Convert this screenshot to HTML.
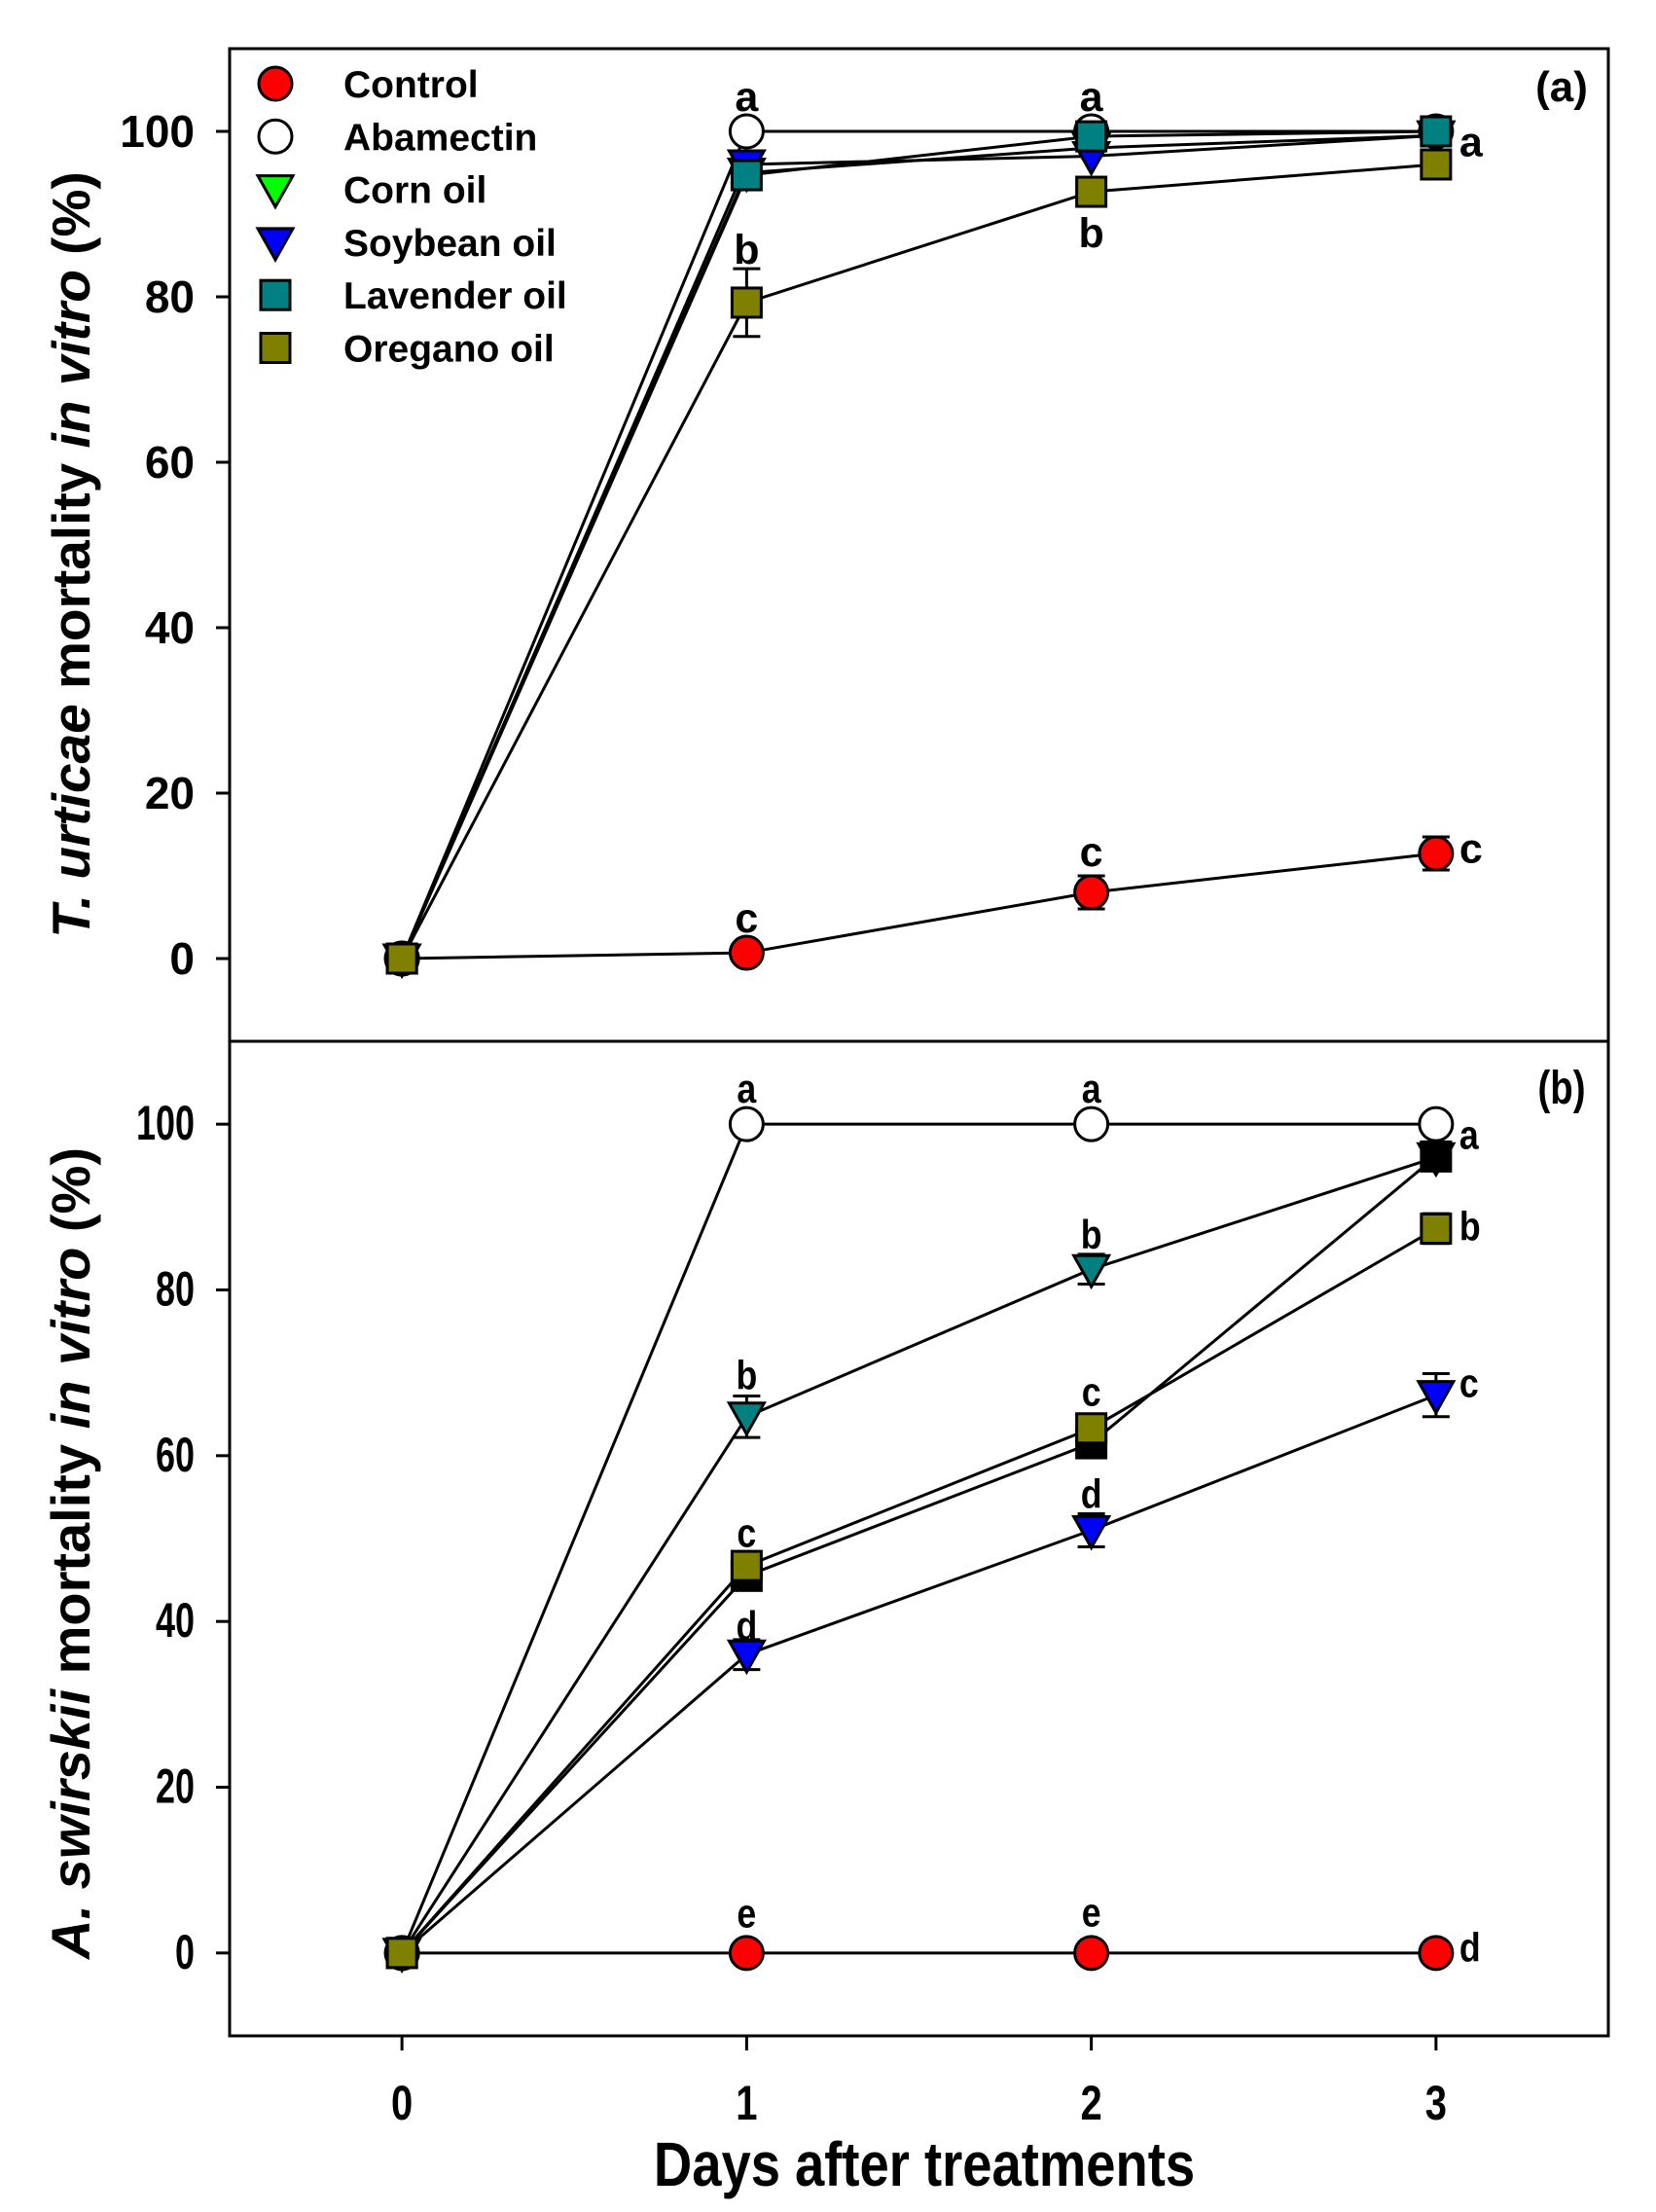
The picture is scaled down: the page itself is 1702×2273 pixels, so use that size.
<!DOCTYPE html>
<html><head><meta charset="utf-8"><style>
html,body{margin:0;padding:0;background:#fff;}
svg{display:block;font-family:"Liberation Sans",Arial,sans-serif;font-weight:bold;}
</style></head><body>
<svg id="chart" width="1702" height="2273" viewBox="0 0 1702 2273" xmlns="http://www.w3.org/2000/svg"></svg>
<script>
const days = [0, 1, 2, 3];
const yTicks = [0, 20, 40, 60, 80, 100];
const seriesNames = ["Control", "Abamectin", "Corn oil", "Soybean oil", "Lavender oil", "Oregano oil"];
// Panel (a) T. urticae
const aControl = [0, 0.7, 8, 12.7];
const aAbamectin = [0, 100, 100, 100];
const aCorn = [0, 95, 98, 99.5];
const aSoybean = [0, 96, 97, 99.5];
const aLavender = [0, 94.7, 99.4, 100];
const aOregano = [0, 79.3, 92.7, 96];
const aControlErr = [0, 0.7, 2, 2];
const aOreganoErr = [0, 4.1, 0, 0];
// Panel (b) A. swirskii
const bControl = [0, 0, 0, 0];
const bAbamectin = [0, 100, 100, 100];
const bCorn = [0, 64.7, 82.5, 96];
const bSoybean = [0, 36, 51, 67.3];
const bLavender = [0, 45.5, 61.5, 96.1];
const bOregano = [0, 46.7, 63.3, 87.4];
const bCornErr = [0, 2.5, 1.8, 0];
const bSoybeanErr = [0, 1.8, 2, 2.6];
const bLavenderErr = [0, 1.5, 1.5, 1];
const bOreganoErr = [0, 1.5, 0, 1.8];
// letters: [letter, day, baseline value, position]
const aLetters = [["a",1,102.5,"c"],["b",1,84,"c"],["c",1,3.2,"c"],["a",2,102.5,"c"],["b",2,86,"c"],["c",2,11.2,"c"],["a",3,97,"r"],["c",3,11.6,"r"]];
const bLetters = [["a",1,102.6,"c"],["b",1,68,"c"],["c",1,49,"c"],["d",1,37.8,"c"],["e",1,3.1,"c"],["a",2,102.6,"c"],["b",2,85,"c"],["c",2,66,"c"],["d",2,53.7,"c"],["e",2,3.2,"c"],["a",3,97,"r"],["b",3,86,"r"],["c",3,67.1,"r"],["d",3,-1,"r"]];

const NS = "http://www.w3.org/2000/svg";
const svg = document.getElementById("chart");
function el(tag, attrs, parent) {
  const e = document.createElementNS(NS, tag);
  for (const k in attrs) e.setAttribute(k, attrs[k]);
  (parent || svg).appendChild(e);
  return e;
}
const X0 = 236, X1 = 1653;
function xs(d) { return X0 + (d + 0.5) / 4 * (X1 - X0); }
function makeY(top, bottom) { return v => bottom - (v + 10) / 120 * (bottom - top); }
const yA = makeY(50, 1070), yB = makeY(1070, 2092);
function sx(x, s) { return "translate(" + x + ",0) scale(" + s + ",1) translate(" + (-x) + ",0)"; }

function marker(kind, fill, cx, cy, parent) {
  let m;
  if (kind === "circle") m = el("circle", {cx: cx, cy: cy, r: 17, fill: fill, stroke: "#000", "stroke-width": 3}, parent);
  else if (kind === "square") m = el("rect", {x: cx - 15, y: cy - 15, width: 30, height: 30, fill: fill, stroke: "#000", "stroke-width": 3}, parent);
  else m = el("polygon", {points: (cx - 18) + "," + (cy - 14) + " " + (cx + 18) + "," + (cy - 14) + " " + cx + "," + (cy + 18), fill: fill, stroke: "#000", "stroke-width": 3}, parent);
  return m;
}

function panel(name, top, bottom, y, series, letters, condensed) {
  const g = el("g", {});
  
  
  const frame = el("rect", {x: X0, y: top, width: X1 - X0, height: bottom - top, fill: "none", stroke: "#000", "stroke-width": 3}, g);
  
  
  yTicks.forEach(t => {
    const ty = y(t);
    const tk = el("line", {x1: X0 - 14, x2: X0, y1: ty, y2: ty, stroke: "#000", "stroke-width": 3}, g);
    
    
    const tl = el("text", {x: X0 - 36, y: ty + 16, "font-size": condensed ? 50 : 46, "text-anchor": "end"}, g);
    if (condensed) tl.setAttribute("transform", sx(X0 - 36, 0.72));
    tl.textContent = t;
    
    
  });
  series.forEach(s => {
    const pts = days.map((d, i) => xs(d) + "," + y(s.vals[i])).join(" ");
    const pl = el("polyline", {points: pts, fill: "none", stroke: "#000", "stroke-width": 3}, g);
    
    
  });
  series.forEach(s => {
    if (!s.err) return;
    days.forEach((d, i) => {
      const e = s.err[i]; if (!e) return;
      const cx = xs(d), hi = y(s.vals[i] + e), lo = y(s.vals[i] - e);
      const eb = el("path", {d: "M" + cx + "," + hi + "V" + lo + "M" + (cx - 14) + "," + hi + "H" + (cx + 14) + "M" + (cx - 14) + "," + lo + "H" + (cx + 14), stroke: "#000", "stroke-width": 3, fill: "none"}, g);
      
      
    });
  });
  series.forEach(s => {
    days.forEach((d, i) => {
      const m = marker(s.kind, s.fill, xs(d), y(s.vals[i]), g);
      
      
    });
  });
  letters.forEach(L => {
    const cx = xs(L[1]), ty = y(L[2]);
    let tx = cx, anchor = "middle";
    if (L[3] === "r") { tx = cx + 24; anchor = "start"; }
    const t = el("text", {x: tx, y: ty, "font-size": condensed ? 42 : 43, "text-anchor": anchor}, g);
    if (condensed) t.setAttribute("transform", sx(tx, 0.85));
    t.textContent = L[0];
    
    
  });
}

const aSeries = [
  {name: "control", kind: "circle", fill: "#ff0000", vals: aControl, err: aControlErr},
  {name: "corn-oil", kind: "tri", fill: "#00ff00", vals: aCorn},
  {name: "soybean-oil", kind: "tri", fill: "#0000ff", vals: aSoybean},
  {name: "abamectin", kind: "circle", fill: "#ffffff", vals: aAbamectin},
  {name: "lavender-oil", kind: "square", fill: "#008080", vals: aLavender},
  {name: "oregano-oil", kind: "square", fill: "#808000", vals: aOregano, err: aOreganoErr}
];
const bSeries = [
  {name: "control", kind: "circle", fill: "#ff0000", vals: bControl},
  {name: "abamectin", kind: "circle", fill: "#ffffff", vals: bAbamectin},
  {name: "corn-oil", kind: "tri", fill: "#008080", vals: bCorn, err: bCornErr},
  {name: "soybean-oil", kind: "tri", fill: "#0000ff", vals: bSoybean, err: bSoybeanErr},
  {name: "lavender-oil", kind: "square", fill: "#000000", vals: bLavender, err: bLavenderErr},
  {name: "oregano-oil", kind: "square", fill: "#808000", vals: bOregano, err: bOreganoErr}
];
panel("panel-a", 50, 1070, yA, aSeries, aLetters, false);
panel("panel-b", 1070, 2092, yB, bSeries, bLetters, true);

days.forEach(d => {
  const tk = el("line", {x1: xs(d), x2: xs(d), y1: 2092, y2: 2107, stroke: "#000", "stroke-width": 3});
  
  
  const tl = el("text", {x: xs(d), y: 2178, "font-size": 50, "text-anchor": "middle"});
  tl.setAttribute("transform", sx(xs(d), 0.8));
  tl.textContent = d;
  
  
});

const legKinds = [["circle","#ff0000"],["circle","#ffffff"],["tri","#00ff00"],["tri","#0000ff"],["square","#008080"],["square","#808000"]];
const lg = el("g", {});


seriesNames.forEach((n, i) => {
  const ly = 86 + i * 54.3;
  const m = marker(legKinds[i][0], legKinds[i][1], 283, ly, lg);
  
  
  const t = el("text", {x: 353, y: ly + 14, "font-size": 39}, lg);
  t.textContent = n;
  
  
});

function txt(attrs, html, name) {
  const t = document.createElementNS(NS, "text");
  for (const k in attrs) t.setAttribute(k, attrs[k]);
  t.innerHTML = html;
  
  
  svg.appendChild(t);
}
txt({x: 1605, y: 104, "font-size": 44, "text-anchor": "middle"}, "(a)", "panel-label-a");
txt({x: 1605, y: 1134, "font-size": 48, "text-anchor": "middle", transform: sx(1605, 0.8)}, "(b)", "panel-label-b");
txt({x: 0, y: 0, "font-size": 55, "text-anchor": "middle", transform: "translate(92,570) rotate(-90)"}, "<tspan font-style='italic'>T. urticae</tspan> mortality <tspan font-style='italic'>in vitro</tspan> (%)", "y-axis-title-a");
txt({x: 0, y: 0, "font-size": 56, "text-anchor": "middle", transform: "translate(92,1596) rotate(-90)"}, "<tspan font-style='italic'>A. swirskii</tspan> mortality <tspan font-style='italic'>in vitro</tspan> (%)", "y-axis-title-b");
txt({x: 0, y: 0, "font-size": 64, "text-anchor": "middle", transform: "translate(950,2246) scale(0.85,1)"}, "Days after treatments", "x-axis-title");
</script>
</body></html>
